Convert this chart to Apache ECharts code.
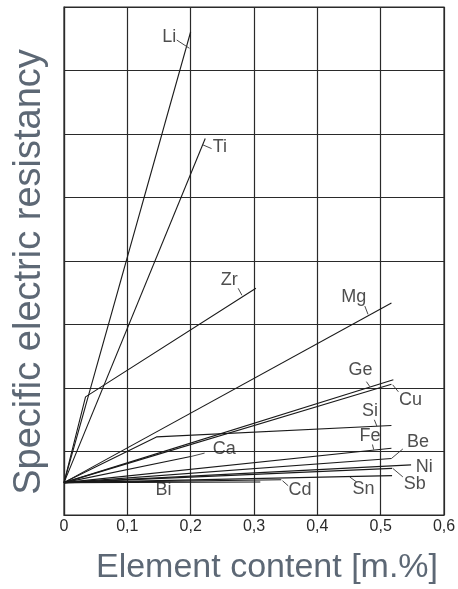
<!DOCTYPE html>
<html>
<head>
<meta charset="utf-8">
<script src="https://cdn.jsdelivr.net/npm/echarts@6/dist/echarts.min.js"></script>
<style>
  html, body { margin: 0; padding: 0; background: #fff; }
  #chart { width: 458px; height: 589px; }
</style>
</head>
<body>
<div id="chart"></div>
<script>
// Tick labels of the concentration axis
const xTicks = [0, 0.1, 0.2, 0.3, 0.4, 0.5, 0.6];

// Resistivity curves per alloying element: [content m.%, resistivity (grid units)]
const li = [[0, 0.51], [0.2, 7.61]];
const ti = [[0, 0.51], [0.223, 5.93]];
const zr = [[0, 0.51], [0.034, 1.86], [0.303, 3.57]];
const mg = [[0, 0.51], [0.517, 3.34]];
const ge = [[0, 0.51], [0.52, 2.13]];
const cu = [[0, 0.51], [0.517, 2.06]];
const si = [[0, 0.51], [0.146, 1.23], [0.517, 1.41]];
const fe = [[0, 0.51], [0.517, 1.05]];
const ca = [[0, 0.51], [0.2, 0.92]];
const be = [[0, 0.51], [0.517, 0.89]];
const ni = [[0, 0.51], [0.548, 0.79]];
const sb = [[0, 0.51], [0.518, 0.735]];
const sn = [[0, 0.51], [0.518, 0.62]];
const cd = [[0, 0.51], [0.343, 0.555]];
const bi = [[0, 0.51], [0.31, 0.52]];

const curves = [li, ti, zr, mg, ge, cu, si, fe, ca, be, ni, sb, sn, cd, bi];

// Element names and where each name sits
const names = ['Li', 'Ti', 'Zr', 'Mg', 'Ge', 'Cu', 'Si', 'Fe', 'Ca', 'Be', 'Ni', 'Sb', 'Sn', 'Cd', 'Bi'];
const namePos = [
  [0.166, 7.53], [0.246, 5.79], [0.261, 3.70], [0.4575, 3.44], [0.468, 2.29],
  [0.547, 1.81], [0.483, 1.63], [0.483, 1.25], [0.253, 1.04], [0.559, 1.155],
  [0.569, 0.75], [0.554, 0.49], [0.473, 0.41], [0.3725, 0.386], [0.157, 0.386]
];

// Short leader strokes tying a name to its curve
const leaders = [
  [[0.178, 7.48], [0.198, 7.35]],
  [[0.219, 5.83], [0.233, 5.77]],
  [[0.275, 3.57], [0.281, 3.46]],
  [[0.475, 3.29], [0.48, 3.16]],
  [[0.4775, 2.10], [0.483, 2.02]],
  [[0.519, 2.05], [0.528, 1.94]],
  [[0.49, 1.50], [0.494, 1.40]],
  [[0.487, 1.11], [0.489, 1.03]],
  [[0.2, 0.92], [0.222, 0.975]],
  [[0.517, 0.89], [0.535, 1.04]],
  [[0.519, 0.735], [0.535, 0.60]],
  [[0.451, 0.60], [0.462, 0.52]],
  [[0.345, 0.54], [0.354, 0.46]]
];

const ink = '#1a1a1a';
const font = 'Liberation Sans, Arial, sans-serif';
const series = [];

curves.forEach((pts, i) => {
  series.push({
    type: 'line', name: names[i], data: pts, symbol: 'none', silent: true,
    lineStyle: { color: ink, width: 1.1 }, z: 3
  });
});

leaders.forEach(pts => {
  series.push({
    type: 'line', data: pts, symbol: 'none', silent: true,
    lineStyle: { color: '#333', width: 0.9 }, z: 3
  });
});

series.push({
  type: 'scatter', symbolSize: 0, silent: true, z: 5,
  data: namePos.map((p, i) => ({ value: p, name: names[i] })),
  label: {
    show: true, position: 'inside', formatter: '{b}',
    fontFamily: font, fontSize: 18, color: '#222'
  }
});

const chart = echarts.init(document.getElementById('chart'));
chart.setOption({
  animation: false,
  backgroundColor: '#fff',
  grid: {
    left: 64, top: 7, width: 380, height: 508, outerBoundsMode: 'none', containLabel: false,
    show: true, borderColor: '#2a2a2a', borderWidth: 1.2
  },
  xAxis: {
    type: 'value', min: 0, max: 0.6, interval: 0.1,
    axisLine: { show: true, lineStyle: { color: '#2a2a2a', width: 1.2 } },
    axisTick: { show: false },
    axisLabel: {
      margin: 4, fontSize: 16, color: '#2a2a2a', fontFamily: font,
      formatter: v => (xTicks.indexOf(+v.toFixed(1)) >= 0 ? (v === 0 ? '0' : v.toFixed(1).replace('.', ',')) : '')
    },
    splitLine: { show: true, lineStyle: { color: '#2a2a2a', width: 1.2 } }
  },
  yAxis: {
    type: 'value', min: 0, max: 8, interval: 1,
    axisLine: { show: true, lineStyle: { color: '#2a2a2a', width: 1.2 } },
    axisTick: { show: false },
    axisLabel: { show: false },
    splitLine: { show: true, lineStyle: { color: '#2a2a2a', width: 1.2 } }
  },
  graphic: [
    {
      type: 'text', x: 267, y: 568, silent: true,
      style: {
        text: 'Element content [m.%]', fill: '#5d6875', font: '34px ' + font,
        align: 'center', verticalAlign: 'middle'
      }
    },
    {
      type: 'text', x: 30, y: 272, rotation: Math.PI / 2, silent: true,
      style: {
        text: 'Specific electric resistancy', fill: '#5d6875', font: '38px ' + font,
        align: 'center', verticalAlign: 'middle'
      }
    }
  ],
  series: series
});
</script>
</body>
</html>
